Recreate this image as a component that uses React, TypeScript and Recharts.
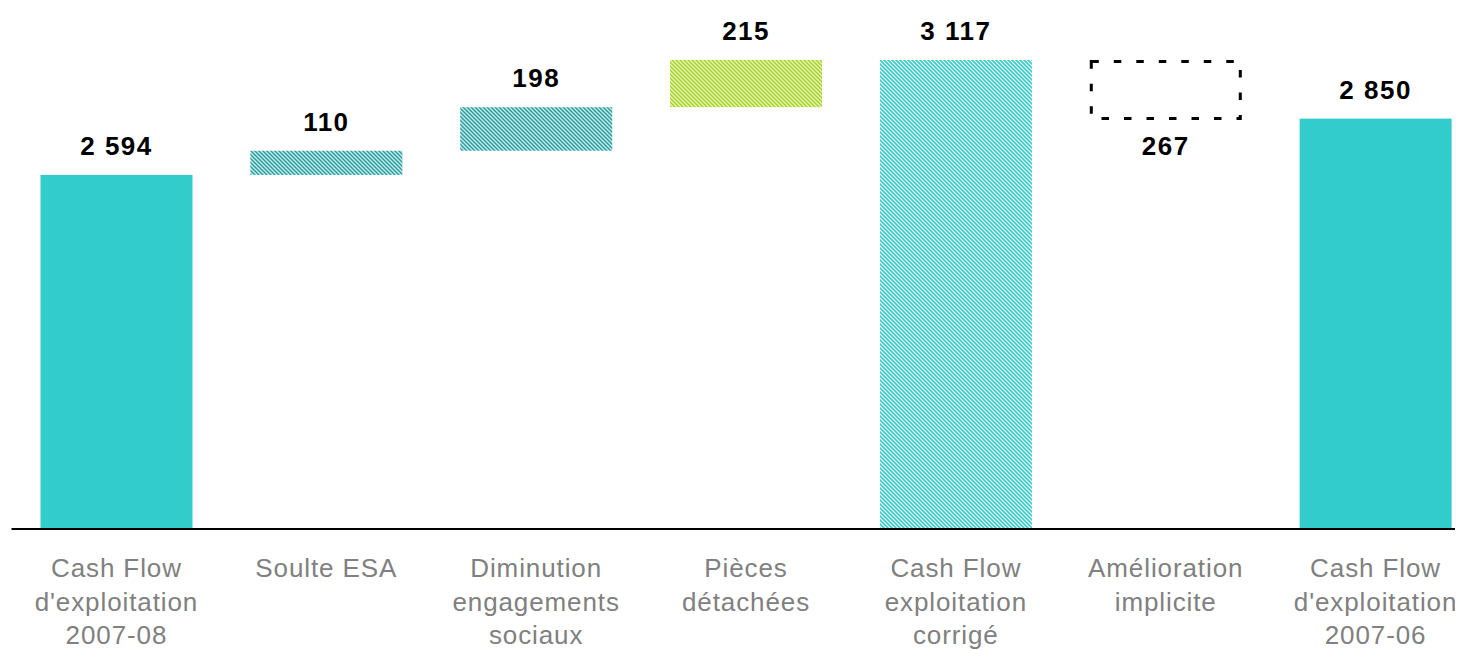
import React from 'react';
import { BarChart, Bar, XAxis, YAxis, LabelList } from 'recharts';

// ---- data ----
const categories = [
  "Cash Flow\nd'exploitation\n2007-08",
  'Soulte ESA',
  'Diminution\nengagements\nsociaux',
  'Pièces\ndétachées',
  'Cash Flow\nexploitation\ncorrigé',
  'Amélioration\nimplicite',
  "Cash Flow\nd'exploitation\n2007-06",
];
const values = [2594, 110, 198, 215, 3117, -267, 2850];
const kinds = ['total', 'delta', 'delta', 'delta', 'total', 'delta', 'total'];
const valueLabels = ['2 594', '110', '198', '215', '3 117', '267', '2 850'];

// ---- styles (kept apart from data) ----
const BAR_FILLS = [
  '#33CCCC',
  'url(#hatchDark)',
  'url(#hatchDark)',
  'url(#hatchLime)',
  'url(#hatchLight)',
  'none',
  '#33CCCC',
];
const FONT = "'Liberation Sans', Arial, sans-serif";

let running = 0;
const data = categories.map((name, i) => {
  const v = values[i];
  let low: number;
  let high: number;
  if (kinds[i] === 'total') {
    low = 0;
    high = v;
    running = v;
  } else {
    const start = running;
    running = start + v;
    low = Math.min(start, running);
    high = Math.max(start, running);
  }
  return { name, range: [low, high], label: valueLabels[i], negative: v < 0 };
});

const BarShape = (props: any) => {
  const { x, y, width, height, index } = props;
  const top = Math.min(y, y + height);
  const h = Math.abs(height);
  if (data[index].negative) {
    return (
      <rect
        x={x + 1.5}
        y={top + 1.5}
        width={width - 3}
        height={h - 1.5}
        fill="none"
        stroke="#000"
        strokeWidth={3}
        strokeDasharray="7.5 15"
      />
    );
  }
  return <rect x={x} y={top} width={width} height={h} fill={BAR_FILLS[index]} />;
};

const ValueLabel = (props: any) => {
  const { x, y, width, height, index, value } = props;
  const top = Math.min(y, y + height);
  const bottom = Math.max(y, y + height);
  const neg = data[index].negative;
  const cy = neg ? bottom + 27 : top - 29;
  return (
    <text
      x={x + width / 2}
      y={cy + 9}
      textAnchor="middle"
      fontFamily={FONT}
      fontWeight="bold"
      fontSize={26}
      letterSpacing={1.5}
      fill="#000"
    >
      {value}
    </text>
  );
};

const CategoryTick = (props: any) => {
  const { x, y, payload } = props;
  const lines = String(payload.value).split('\n');
  return (
    <text
      x={x}
      y={y}
      textAnchor="middle"
      fill="#808080"
      fontFamily={FONT}
      fontSize={26}
      letterSpacing={0.9}
    >
      {lines.map((l, i) => (
        <tspan key={i} x={x} dy={i === 0 ? 48 : 33.5}>
          {l}
        </tspan>
      ))}
    </text>
  );
};

export default function App() {
  return (
    <div style={{ width: 1455, height: 642, overflow: 'hidden', fontFamily: FONT }}>
      <BarChart
        width={1474}
        height={642}
        data={data}
        margin={{ top: 0, right: 1.5, bottom: 0, left: 3.5 }}
      >
        <defs>
          <pattern id="hatchDark" patternUnits="userSpaceOnUse" width="4" height="4">
            <rect width="4" height="4" fill="#C4EAEA" />
            <path d="M-1,-1 L5,5 M-1,3 L1,5 M3,-1 L5,1" stroke="#2A9C9C" strokeWidth="1.4" />
          </pattern>
          <pattern id="hatchLime" patternUnits="userSpaceOnUse" width="4" height="4">
            <rect width="4" height="4" fill="#E8F5B8" />
            <path d="M-1,-1 L5,5 M-1,3 L1,5 M3,-1 L5,1" stroke="#A6D22A" strokeWidth="1.5" />
          </pattern>
          <pattern id="hatchLight" patternUnits="userSpaceOnUse" width="4" height="4">
            <rect width="4" height="4" fill="#FFFFFF" />
            <path d="M-1,-1 L5,5 M-1,3 L1,5 M3,-1 L5,1" stroke="#33CCCC" strokeWidth="1.6" />
          </pattern>
        </defs>
        <XAxis
          dataKey="name"
          height={121}
          interval={0}
          tickLine={false}
          tickSize={0}
          tickMargin={0}
          axisLine={{ stroke: '#000', strokeWidth: 2 }}
          tick={<CategoryTick />}
        />
        <YAxis hide domain={[984, 3353]} allowDataOverflow />
        <Bar dataKey="range" barSize={152} shape={<BarShape />} isAnimationActive={false}>
          <LabelList dataKey="label" content={<ValueLabel />} />
        </Bar>
      </BarChart>
    </div>
  );
}
